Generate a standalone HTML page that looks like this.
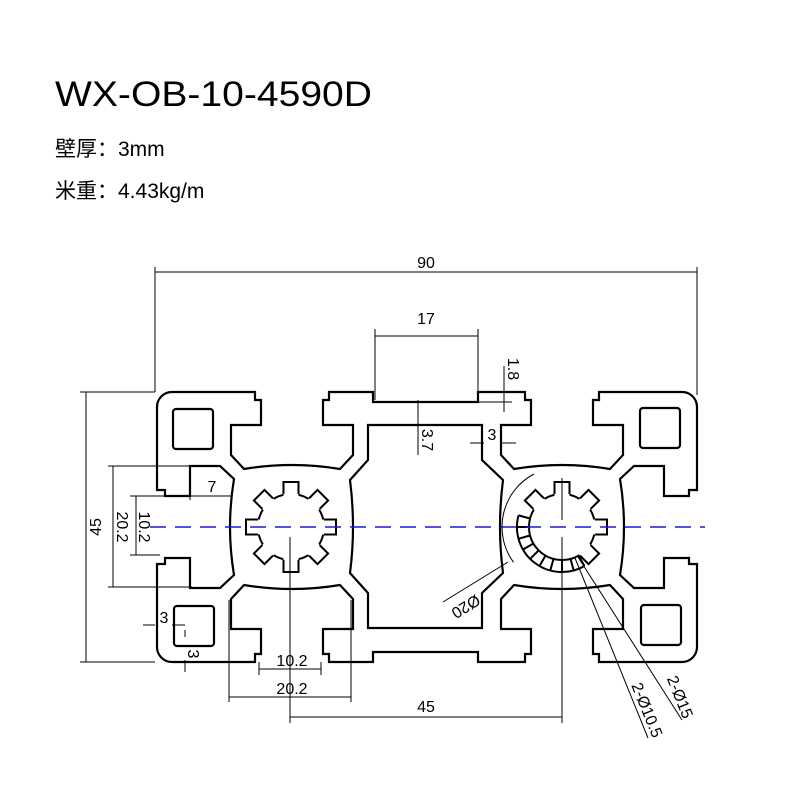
<!DOCTYPE html>
<html><head><meta charset="utf-8"><style>
html,body{margin:0;padding:0;background:#fff;}
svg{display:block;}
.o{fill:none;stroke:#000;stroke-width:2.2;stroke-linejoin:miter;}
.d{fill:none;stroke:#000;stroke-width:1;}
.t{font-family:"Liberation Sans",sans-serif;font-size:16px;fill:#000;}
</style></head><body>
<svg width="800" height="800" viewBox="0 0 800 800" xmlns="http://www.w3.org/2000/svg">
<defs>
<path id="slot" d="M-40,-135 L-37,-135 L-37,-127 L-31,-127 L-31,-102 L-61,-102 L-61,-72 L-48,-58 Q0,-66 48,-58 L61,-72 L61,-102 L31,-102 L31,-127 L37,-127 L37,-135 L40,-135"/>
<g id="corner"><path d="M-135,-40 L-135,-120 A15,15 0 0 1 -120,-135 L-40,-135"/><rect x="-119" y="-118" width="40" height="40" rx="3"/></g>
<g id="tooth"><rect x="-7.5" y="-46" width="15" height="15.5" fill="#fff" stroke="none"/><path d="M-7.5,-33 L-7.5,-45 L7.5,-45 L7.5,-33" fill="none"/></g>
</defs>

<text x="55" y="106" font-family="Liberation Sans, sans-serif" font-size="35" textLength="317" lengthAdjust="spacingAndGlyphs">WX-OB-10-4590D</text>
<text x="55" y="156" font-family="Liberation Sans, Noto Sans CJK SC, sans-serif" font-size="21">壁厚：3mm</text>
<text x="55" y="198" font-family="Liberation Sans, Noto Sans CJK SC, sans-serif" font-size="21">米重：4.43kg/m</text>

<!-- profile -->
<g class="o">
 <g transform="translate(292,527)">
  <use href="#slot"/>
  <use href="#slot" transform="rotate(180)"/>
  <use href="#slot" transform="rotate(-90)"/>
  <use href="#corner"/>
  <use href="#corner" transform="rotate(-90)"/>
 </g>
 <g transform="translate(562,527)">
  <use href="#slot"/>
  <use href="#slot" transform="rotate(180)"/>
  <use href="#slot" transform="rotate(90)"/>
  <use href="#corner" transform="rotate(90)"/>
  <use href="#corner" transform="rotate(180)"/>
 </g>
 <path d="M332,392 L373,392 L373,402 L478,402 L478,392 L522,392"/>
 <path d="M332,662 L373,662 L373,652 L478,652 L478,662 L522,662"/>
 <path d="M368,425 L482,425 L482,460 L503,480 Q497,527 503,573 L482,593 L482,628 L368,628 L368,593 L350,573 Q356,527 350,480 L368,460 Z"/>
</g>

<!-- stars -->
<g fill="none" stroke="#000" stroke-width="2">
 <circle cx="291" cy="527" r="33"/>
 <g transform="translate(291,527)">
  <use href="#tooth"/><use href="#tooth" transform="rotate(45)"/><use href="#tooth" transform="rotate(90)"/><use href="#tooth" transform="rotate(135)"/>
  <use href="#tooth" transform="rotate(180)"/><use href="#tooth" transform="rotate(225)"/><use href="#tooth" transform="rotate(270)"/><use href="#tooth" transform="rotate(315)"/>
 </g>
 <circle cx="562" cy="527" r="33"/>
 <g transform="translate(562,527)">
  <use href="#tooth"/><use href="#tooth" transform="rotate(45)"/><use href="#tooth" transform="rotate(90)"/><use href="#tooth" transform="rotate(135)"/><use href="#tooth" transform="rotate(-45)"/>
 </g>
 <path d="M584.5,566 A45,45 0 0 1 518.5,515.4"/>
 <path d="M578.5,555.6 L584.5,566 M570.5,558.9 L573.7,570.5 M562,560 L562,572 M553.5,558.9 L550.3,570.5 M545.5,555.6 L539.5,566 M538.7,550.3 L530.2,558.8 M533.4,543.5 L523,549.5 M530.1,535.5 L518.5,538.7 M529,527 L517,527 M530.1,518.5 L518.5,515.4"/>
</g>

<!-- centerline -->
<line x1="150" y1="527" x2="705" y2="527" stroke="#1a1ad6" stroke-width="1.5" stroke-dasharray="16,9"/>

<!-- dimensions -->
<g class="d">
 <path d="M155,267 L155,392 M697,267 L697,395 M155,272 L697,272"/>
 <path d="M375,329 L375,400 M478,329 L478,400 M375,336 L478,336"/>
 <path d="M504,366 L504,412 M478,392 L512,392 M478,402 L512,402"/>
 <path d="M418,400 L418,455"/>
 <path d="M470,443 L484,443 M500,443 L516,443"/>
 <path d="M80,392 L155,392 M80,662 L155,662 M86,392 L86,662"/>
 <path d="M108,466 L192,466 M108,587 L192,587 M113,466 L113,587"/>
 <path d="M130,496 L232,496 M130,555 L160,555 M136,496 L136,555 M190,466 L190,500"/>
 <path d="M143,625 L155,625 M172,625 L185,625 M185,630 L185,637 M185,660 L185,672"/>
 <path d="M259,662 L259,675 M321,662 L321,675 M259,669 L321,669"/>
 <path d="M229,600 L229,702 M351,600 L351,702 M229,697 L351,697"/>
 <path d="M290,537 L290,723 M562,537 L562,723 M290,717 L562,717"/>
 <path d="M562,478 L562,520"/>
 <path d="M513.5,562.3 A60,60 0 0 1 533.9,474"/>
 <path d="M508,562 L443,602"/>
 <path d="M575,558 L648,738 M578,557 L682,720"/>
</g>
<g class="t">
 <text x="426" y="268" text-anchor="middle">90</text>
 <text x="426" y="324" text-anchor="middle">17</text>
 <text transform="translate(508,369) rotate(90)" text-anchor="middle">1.8</text>
 <text transform="translate(422,440) rotate(90)" text-anchor="middle">3.7</text>
 <text x="492" y="440" text-anchor="middle">3</text>
 <text transform="translate(101,527) rotate(-90)" text-anchor="middle">45</text>
 <text transform="translate(117,527) rotate(90)" text-anchor="middle">20.2</text>
 <text transform="translate(139,527) rotate(90)" text-anchor="middle">10.2</text>
 <text x="212" y="492" text-anchor="middle">7</text>
 <text x="164" y="623" text-anchor="middle">3</text>
 <text transform="translate(188,654) rotate(90)" text-anchor="middle">3</text>
 <text x="292" y="666" text-anchor="middle">10.2</text>
 <text x="292" y="694" text-anchor="middle">20.2</text>
 <text x="426" y="712" text-anchor="middle">45</text>
 <text transform="translate(463,602) rotate(148)" text-anchor="middle">Ø20</text>
 <text transform="translate(642,712) rotate(68)" text-anchor="middle">2-Ø10.5</text>
 <text transform="translate(675,699) rotate(68)" text-anchor="middle">2-Ø15</text>
</g>
</svg>
</body></html>
